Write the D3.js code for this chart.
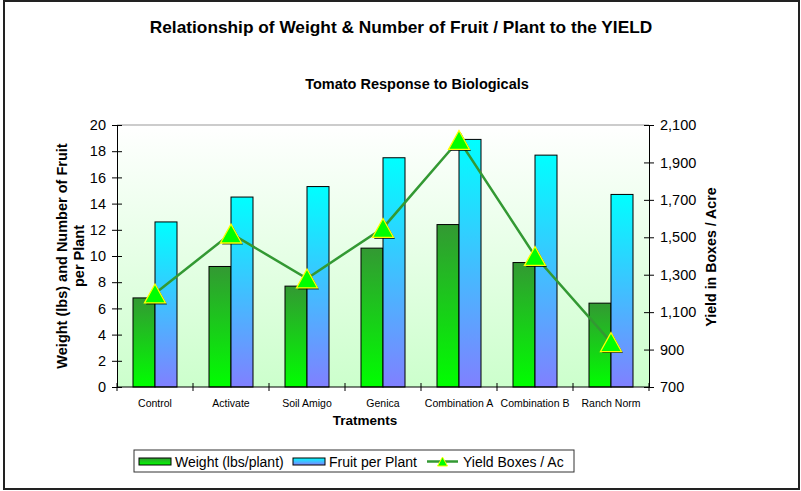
<!DOCTYPE html>
<html>
<head>
<meta charset="utf-8">
<script src="https://cdn.jsdelivr.net/npm/d3@7"></script>
<style>
    body { margin: 0; background: #fff; }
    text { font-family: "Liberation Sans", Arial, sans-serif; fill: #000; }
</style>
</head>
<body>
<div id="chart"></div>
<script>
// data
var treatments = ['Control', 'Activate', 'Soil Amigo', 'Genica', 'Combination A', 'Combination B', 'Ranch Norm'];
var weight = [6.8, 9.2, 7.7, 10.6, 12.4, 9.5, 6.4];
var fruit = [12.6, 14.5, 15.3, 17.5, 18.9, 17.7, 14.7];
var yieldBoxes = [1200, 1520, 1280, 1550, 2020, 1400, 940];
var leftTicks = [0, 2, 4, 6, 8, 10, 12, 14, 16, 18, 20];
var rightTicks = [700, 900, 1100, 1300, 1500, 1700, 1900, 2100];
var seriesNames = ['Weight (lbs/plant)', 'Fruit per Plant', 'Yield Boxes / Ac'];

var W = 801, H = 491;
var plot = {left: 117, right: 649, top: 125, bottom: 387};

var svg = d3.select('#chart')
    .append('svg')
    .attr('width', W)
    .attr('height', H);

var defs = svg.append('defs');
function vgrad(id, top, bottom) {
    var g = defs.append('linearGradient')
        .attr('id', id)
        .attr('x1', 0).attr('y1', 0)
        .attr('x2', 0).attr('y2', 1);
    g.append('stop').attr('offset', '0%').attr('stop-color', top);
    g.append('stop').attr('offset', '100%').attr('stop-color', bottom);
}
vgrad('g_bg', '#ffffff', '#ccffcc');
vgrad('g_green', '#339933', '#00ff00');
vgrad('g_blue', '#00ffff', '#8080ff');

// outer frame
svg.append('rect')
    .attr('x', 4).attr('y', 1)
    .attr('width', 795).attr('height', 488)
    .attr('fill', '#fff')
    .attr('stroke', '#222')
    .attr('stroke-width', 2);

// titles
svg.append('text')
    .attr('x', 401).attr('y', 33)
    .attr('text-anchor', 'middle')
    .style('font-size', '17.3px')
    .style('font-weight', 'bold')
    .text('Relationship of Weight & Number of Fruit / Plant to the YIELD');
svg.append('text')
    .attr('x', 417).attr('y', 89)
    .attr('text-anchor', 'middle')
    .style('font-size', '14.5px')
    .style('font-weight', 'bold')
    .text('Tomato Response to Biologicals');

// scales
var x0 = d3.scaleBand()
    .domain(treatments)
    .range([plot.left, plot.right]);
var x1 = d3.scaleBand()
    .domain(['w', 'f'])
    .range([16, x0.step() - 16]);
var yL = d3.scaleLinear().domain([0, 20]).range([plot.bottom, plot.top]);
var yR = d3.scaleLinear().domain([700, 2100]).range([plot.bottom, plot.top]);

// plot area
svg.append('rect')
    .attr('x', plot.left).attr('y', plot.top)
    .attr('width', plot.right - plot.left)
    .attr('height', plot.bottom - plot.top)
    .attr('fill', 'url(#g_bg)');
svg.append('line')
    .attr('x1', plot.left).attr('x2', plot.right)
    .attr('y1', plot.top).attr('y2', plot.top)
    .attr('stroke', '#999');

// bars
var groups = svg.selectAll('.grp')
    .data(treatments)
    .enter()
    .append('g')
    .attr('class', 'grp')
    .attr('transform', function(d) { return 'translate(' + x0(d) + ',0)'; });
groups.append('rect')
    .attr('x', x1('w'))
    .attr('width', x1.bandwidth())
    .attr('y', function(d, i) { return yL(weight[i]); })
    .attr('height', function(d, i) { return yL(0) - yL(weight[i]); })
    .attr('fill', 'url(#g_green)')
    .attr('stroke', '#000');
groups.append('rect')
    .attr('x', x1('f'))
    .attr('width', x1.bandwidth())
    .attr('y', function(d, i) { return yL(fruit[i]); })
    .attr('height', function(d, i) { return yL(0) - yL(fruit[i]); })
    .attr('fill', 'url(#g_blue)')
    .attr('stroke', '#000');

// axes
var axL = svg.append('g')
    .attr('transform', 'translate(' + plot.left + ',0)')
    .call(d3.axisLeft(yL).tickValues(leftTicks).tickSize(5).tickPadding(6));
var axR = svg.append('g')
    .attr('transform', 'translate(' + plot.right + ',0)')
    .call(d3.axisRight(yR).tickValues(rightTicks).tickFormat(d3.format(',')).tickSize(5).tickPadding(6));
[axL, axR].forEach(function(ax) {
    ax.select('.domain').attr('stroke', '#000');
    ax.selectAll('.tick line').attr('x1', -5).attr('x2', 5).attr('stroke', '#000');
    ax.selectAll('.tick text')
        .style('font-size', '14.5px')
        .style('font-family', '"Liberation Sans", Arial, sans-serif');
});

// category axis
svg.append('line')
    .attr('x1', plot.left).attr('x2', plot.right)
    .attr('y1', plot.bottom).attr('y2', plot.bottom)
    .attr('stroke', '#000');
svg.selectAll('.ctick')
    .data(treatments.concat(['end']))
    .enter()
    .append('line')
    .attr('class', 'ctick')
    .attr('x1', function(d, i) { return plot.left + i * x0.step(); })
    .attr('x2', function(d, i) { return plot.left + i * x0.step(); })
    .attr('y1', plot.bottom - 4)
    .attr('y2', plot.bottom + 4)
    .attr('stroke', '#000');
svg.selectAll('.clabel')
    .data(treatments)
    .enter()
    .append('text')
    .attr('class', 'clabel')
    .attr('x', function(d) { return x0(d) + x0.bandwidth() / 2; })
    .attr('y', 407)
    .attr('text-anchor', 'middle')
    .style('font-size', '10.5px')
    .text(function(d) { return d; });

// axis titles
svg.append('text')
    .attr('x', 365).attr('y', 425)
    .attr('text-anchor', 'middle')
    .style('font-size', '13.5px')
    .style('font-weight', 'bold')
    .text('Tratments');
var lt = svg.append('text')
    .attr('transform', 'translate(67,256) rotate(-90)')
    .attr('text-anchor', 'middle')
    .style('font-size', '14.5px')
    .style('font-weight', 'bold');
lt.append('tspan').attr('x', 0).attr('dy', 0).text('Weight (lbs) and Number of Fruit');
lt.append('tspan').attr('x', 0).attr('dy', 17).text('per Plant');
svg.append('text')
    .attr('transform', 'translate(716,257) rotate(-90)')
    .attr('text-anchor', 'middle')
    .style('font-size', '14.2px')
    .style('font-weight', 'bold')
    .text('Yield in Boxes / Acre');

// yield line + triangles
var cx = function(i) { return x0(treatments[i]) + x0.bandwidth() / 2; };
var line = d3.line()
    .x(function(d, i) { return cx(i); })
    .y(function(d) { return yR(d); });
svg.append('path')
    .datum(yieldBoxes)
    .attr('d', line)
    .attr('fill', 'none')
    .attr('stroke', '#339933')
    .attr('stroke-width', 2.5);

function tri(s) {
    var h = s * 0.9;
    return 'M0,' + (-h / 2) + 'L' + (s / 2) + ',' + (h / 2) + 'L' + (-s / 2) + ',' + (h / 2) + 'Z';
}
yieldBoxes.forEach(function(v, i) {
    svg.append('path')
        .attr('d', tri(21))
        .attr('transform', 'translate(' + (cx(i) + 1.5) + ',' + (yR(v) + 1.5) + ')')
        .attr('fill', '#000')
        .attr('opacity', 0.75);
    svg.append('path')
        .attr('d', tri(21))
        .attr('transform', 'translate(' + cx(i) + ',' + yR(v) + ')')
        .attr('fill', '#00ff00')
        .attr('stroke', '#ffff00')
        .attr('stroke-width', 1.3);
});

// legend
var lg = svg.append('g');
lg.append('rect')
    .attr('x', 134).attr('y', 450)
    .attr('width', 440).attr('height', 22)
    .attr('fill', '#fff')
    .attr('stroke', '#333');
var lgY = 461.5;
lg.append('rect')
    .attr('x', 139).attr('y', 458).attr('width', 32).attr('height', 7)
    .attr('fill', 'url(#g_green)').attr('stroke', '#000');
lg.append('text').attr('x', 175).attr('y', lgY + 5).style('font-size', '14px').text(seriesNames[0]);
lg.append('rect')
    .attr('x', 293).attr('y', 458).attr('width', 32).attr('height', 7)
    .attr('fill', 'url(#g_blue)').attr('stroke', '#000');
lg.append('text').attr('x', 329).attr('y', lgY + 5).style('font-size', '14px').text(seriesNames[1]);
lg.append('line')
    .attr('x1', 427).attr('x2', 458).attr('y1', lgY).attr('y2', lgY)
    .attr('stroke', '#339933').attr('stroke-width', 2.5);
lg.append('path')
    .attr('d', tri(10))
    .attr('transform', 'translate(442.5,' + lgY + ')')
    .attr('fill', '#00ff00')
    .attr('stroke', '#ffff00');
lg.append('text').attr('x', 463).attr('y', lgY + 5).style('font-size', '14px').text(seriesNames[2]);
</script>
</body>
</html>
